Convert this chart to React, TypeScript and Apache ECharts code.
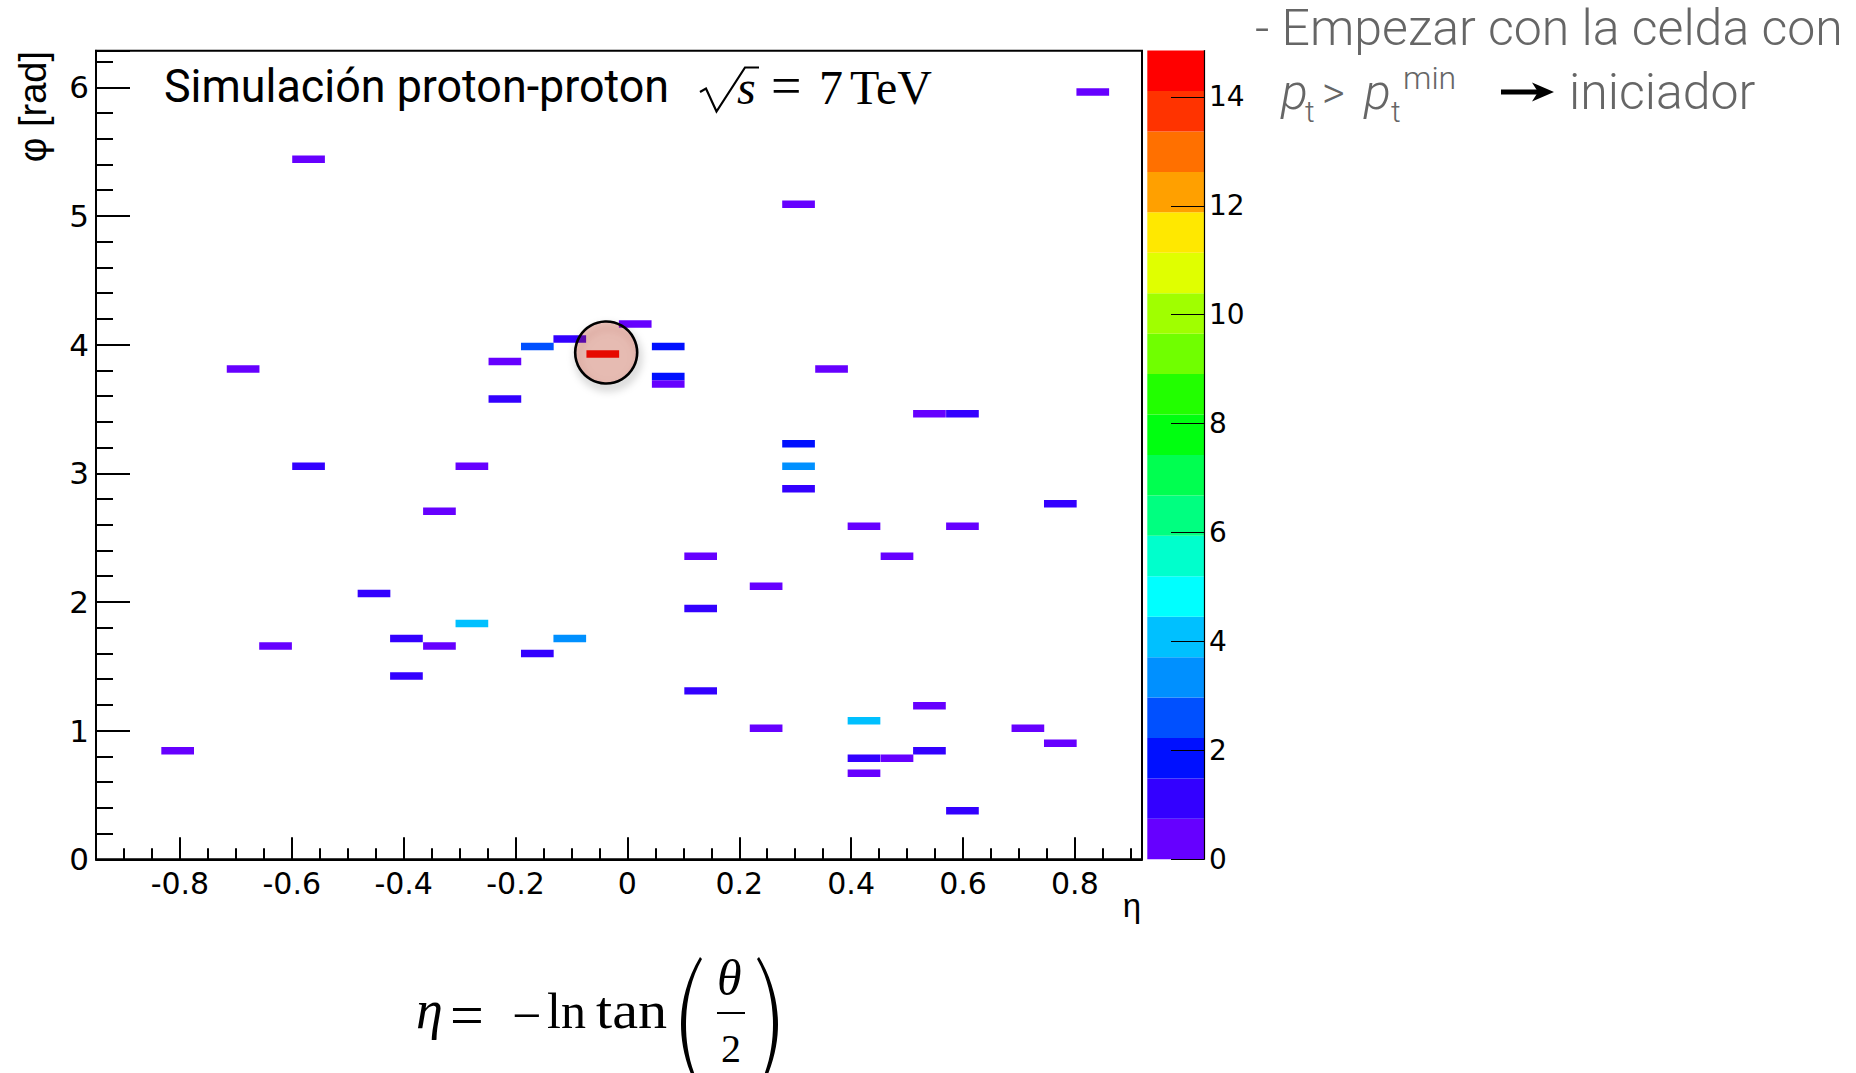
import { useEffect, useRef } from "react";
import * as echarts from "echarts";

// ---------------- data ----------------
const ETA_MIN = -0.95;
const ETA_MAX = 0.92;
const N_ETA_BINS = 32;
const PHI_MIN = 0;
const PHI_MAX = 2 * Math.PI;
const N_PHI_BINS = 108;
const Z_MAX = 14.85;
const N_LEVELS = 20;

// cell centres (eta, phi) and cell content (pt)
const cellEta = [
  -0.57, -0.687, -0.219, -0.219, -0.161, -0.103, -0.044, 0.832, 0.306, 0.014,
  0.073, 0.073, 0.073, 0.365, 0.54, 0.599, 0.306, -0.57, -0.278, -0.336,
  -0.453, -0.278, -0.395, -0.336, -0.103, -0.161, -0.629, -0.395, -0.804, 0.306,
  0.306, 0.774, 0.423, 0.599, 0.131, 0.482, 0.248, 0.131, 0.131, 0.54,
  0.423, 0.248, 0.716, 0.774, 0.54, 0.423, 0.482, 0.423, 0.599,
];
const cellPhi = [
  5.44, 3.811, 3.869, 3.578, 3.985, 4.043, 3.927, 5.963, 5.091, 4.16,
  3.985, 3.752, 3.694, 3.811, 3.462, 3.462, 3.229, 3.054, 3.054, 2.705,
  2.065, 1.833, 1.716, 1.658, 1.716, 1.6, 1.658, 1.425, 0.844, 3.054,
  2.88, 2.763, 2.589, 2.589, 2.356, 2.356, 2.123, 1.949, 1.309, 1.193,
  1.076, 1.018, 1.018, 0.902, 0.844, 0.785, 0.785, 0.669, 0.378,
];
const cellPt = [
  0.52, 0.48, 0.61, 1.12, 2.61, 1.05, 14.85, 0.44, 0.57, 0.66,
  1.86, 1.71, 0.59, 0.5, 0.63, 0.97, 1.94, 1.21, 0.46, 0.55,
  1.33, 4.12, 1.18, 0.69, 3.36, 1.27, 0.41, 1.09, 0.53, 3.18,
  1.24, 1.02, 0.47, 0.58, 0.64, 0.43, 0.56, 1.15, 1.31, 0.49,
  3.97, 0.62, 0.45, 0.68, 1.07, 0.89, 0.51, 0.6, 1.19,
];

const xMajorLabels = [-0.8, -0.6, -0.4, -0.2, 0, 0.2, 0.4, 0.6, 0.8];
const zTickValues = [0, 2, 4, 6, 8, 10, 12, 14];
const palette = [
  "#6600ff", "#3300ff", "#0010ff", "#0050ff", "#0090ff",
  "#00c0ff", "#00ffff", "#00ffcc", "#00ff80", "#00ff50",
  "#00ff10", "#22ff00", "#70ff00", "#a0ff00", "#e0ff00",
  "#ffe800", "#ffa000", "#ff7000", "#ff3300", "#ff0000",
];

// ---------------- layout ----------------
const GRID = { left: 96, top: 50.85, width: 1046, height: 808.45 };
const CBAR = { left: 1147.3, top: 50.6, width: 56.7, height: 808.7 };
const CENTRAL = 0.34;

const D_ETA = (ETA_MAX - ETA_MIN) / N_ETA_BINS;
const D_PHI = (PHI_MAX - PHI_MIN) / N_PHI_BINS;

function levelColor(v: number) {
  const lv = Math.min(N_LEVELS - 1, Math.max(0, Math.floor(v / (Z_MAX / N_LEVELS))));
  return palette[lv];
}

function txt(text: string, left: number, baseline: number, size: number, o: any = {}) {
  const style: any = {
    text,
    x: 0,
    y: 0,
    fill: o.color ?? "#000",
    fontSize: size,
    fontFamily: o.family ?? "Roboto",
    fontStyle: o.italic ? "italic" : "normal",
    fontWeight: o.weight ?? "normal",
    align: o.align ?? "left",
    verticalAlign: "middle",
  };
  if (o.lineHeight) style.lineHeight = o.lineHeight;
  return {
    type: "text",
    x: left,
    y: baseline - CENTRAL * size,
    scaleX: o.scaleX ?? 1,
    z: 50,
    style,
  };
}

const LPAREN =
  "M 20 0 C 5 25 1 50 1 67.5 C 1 85 5 110 20 135 L 22 133 C 10 112 6 88 6 67.5 C 6 47 10 23 22 2 Z";
const RPAREN =
  "M 2 0 C 17 25 21 50 21 67.5 C 21 85 17 110 2 135 L 0 133 C 12 112 16 88 16 67.5 C 16 47 12 23 0 2 Z";
let registered = false;
function registerShapes() {
  if (registered) return;
  registered = true;
  echarts.graphic.registerShape("lparen", echarts.graphic.extendPath(LPAREN, {}) as any);
  echarts.graphic.registerShape("rparen", echarts.graphic.extendPath(RPAREN, {}) as any);
}

const LABEL_FONT = "DejaVu Sans";
const TITLE_FONT = "Liberation Sans";
const SERIF = "Liberation Serif";

export default function App() {
  const ref = useRef<HTMLDivElement>(null);

  useEffect(() => {
    if (!ref.current) return;
    registerShapes();
    const chart = echarts.init(ref.current, undefined, { renderer: "svg" });

    const cells = cellEta.map((e, i) => [e, cellPhi[i], cellPt[i]]);
    const levels = palette.map((_, i) => [0.5, i]);
    const intLabel = (v: number) => (Math.abs(v - Math.round(v)) < 1e-6 ? String(Math.round(v)) : "");

    const option: any = {
      animation: false,
      backgroundColor: "#fff",
      grid: [
        { ...GRID, show: true, borderColor: "#000", borderWidth: 2, backgroundColor: "transparent", containLabel: false },
        { ...CBAR, show: false, containLabel: false },
      ],
      xAxis: [
        {
          type: "value",
          gridIndex: 0,
          position: "bottom",
          min: ETA_MIN,
          max: ETA_MAX,
          splitNumber: 10,
          axisLine: { show: true, onZero: false, lineStyle: { color: "#000", width: 2 } },
          axisTick: { show: true, inside: true, length: 22, lineStyle: { color: "#000", width: 2 } },
          axisLabel: {
            show: true,
            color: "#000",
            fontSize: 30,
            fontFamily: LABEL_FONT,
            margin: 9,
            formatter: (v: number) => {
              const hit = xMajorLabels.find((m) => Math.abs(m - v) < 1e-6);
              return hit === undefined ? "" : String(hit);
            },
          },
          splitLine: { show: false },
        },
        {
          type: "value",
          gridIndex: 0,
          position: "bottom",
          offset: 0,
          min: ETA_MIN,
          max: ETA_MAX,
          interval: 0.05,
          axisLine: { show: false, onZero: false },
          axisTick: { show: true, inside: true, length: 11, lineStyle: { color: "#000", width: 2 } },
          axisLabel: { show: false },
          splitLine: { show: false },
        },
        { type: "value", gridIndex: 1, min: 0, max: 1, show: false },
      ],
      yAxis: [
        {
          type: "value",
          gridIndex: 0,
          position: "left",
          min: PHI_MIN,
          max: PHI_MAX,
          interval: 1,
          axisLine: { show: true, onZero: false, lineStyle: { color: "#000", width: 2 } },
          axisTick: { show: true, inside: true, length: 34, lineStyle: { color: "#000", width: 2 } },
          axisLabel: {
            show: true,
            color: "#000",
            fontSize: 31,
            fontFamily: LABEL_FONT,
            margin: 7,
            formatter: intLabel,
          },
          splitLine: { show: false },
        },
        {
          type: "value",
          gridIndex: 0,
          position: "left",
          offset: 0,
          min: PHI_MIN,
          max: PHI_MAX,
          interval: 0.2,
          axisLine: { show: false, onZero: false },
          axisTick: { show: true, inside: true, length: 17, lineStyle: { color: "#000", width: 2 } },
          axisLabel: { show: false },
          splitLine: { show: false },
        },
        {
          type: "value",
          gridIndex: 1,
          position: "right",
          offset: 0,
          z: 10,
          min: 0,
          max: Z_MAX,
          interval: 2,
          axisLine: { show: true, onZero: false, lineStyle: { color: "#000", width: 1.2 } },
          axisTick: {
            show: true,
            inside: true,
            length: 33,
            customValues: zTickValues,
            lineStyle: { color: "#000", width: 1.2 },
          },
          axisLabel: {
            show: true,
            color: "#000",
            fontSize: 28,
            fontFamily: LABEL_FONT,
            margin: 5,
            customValues: zTickValues,
            formatter: intLabel,
          },
          splitLine: { show: false },
        },
      ],
      series: [
        {
          type: "custom",
          xAxisIndex: 0,
          yAxisIndex: 0,
          data: cells,
          encode: { x: 0, y: 1 },
          z: 2,
          renderItem: (_p: any, api: any) => {
            const e = api.value(0);
            const f = api.value(1);
            const z = api.value(2);
            const a = api.coord([e - D_ETA / 2, f + D_PHI / 2]);
            const b = api.coord([e + D_ETA / 2, f - D_PHI / 2]);
            return {
              type: "rect",
              shape: { x: a[0], y: a[1], width: b[0] - a[0], height: b[1] - a[1] },
              style: { fill: levelColor(z) },
            };
          },
        },
        {
          type: "custom",
          xAxisIndex: 2,
          yAxisIndex: 2,
          data: levels,
          encode: { x: 0, y: 1 },
          z: 1,
          renderItem: (_p: any, api: any) => {
            const i = api.value(1);
            const lo = (i * Z_MAX) / N_LEVELS;
            const hi = ((i + 1) * Z_MAX) / N_LEVELS;
            const a = api.coord([0, hi]);
            const b = api.coord([1, lo]);
            return {
              type: "rect",
              shape: { x: a[0], y: a[1], width: b[0] - a[0], height: b[1] - a[1] },
              style: { fill: palette[i] },
            };
          },
        },
      ],
    };

    chart.setOption(option);

    // highlight circle around the most energetic cell
    let maxI = 0;
    cellPt.forEach((v, i) => {
      if (v > cellPt[maxI]) maxI = i;
    });
    const c = chart.convertToPixel({ gridIndex: 0 } as any, [cellEta[maxI], cellPhi[maxI]]) as number[];

    const gray = "#666";
    const graphics: any[] = [
      // title
      txt("Simulación proton-proton", 164, 101.7, 46, { scaleX: 0.975 }),
      {
        type: "polyline",
        z: 50,
        shape: { points: [[700, 92], [706, 88.5], [716.5, 111.5], [745, 67.5], [759, 67.5]] },
        style: { stroke: "#000", lineWidth: 2.2, fill: null },
      },
      txt("s", 737, 104, 48, { family: SERIF, italic: true }),
      txt("=", 771, 104, 54, { family: SERIF }),
      txt("7", 819, 104, 48, { family: SERIF }),
      txt("TeV", 850, 104, 48, { family: SERIF }),
      // axis titles
      {
        type: "text",
        x: 33,
        y: 51,
        rotation: Math.PI / 2,
        z: 50,
        style: { text: "φ [rad]", x: 0, y: 0, fontSize: 38, fontFamily: TITLE_FONT, fill: "#000", align: "right", verticalAlign: "middle" },
      },
      txt("η", 1141, 917, 33, { family: TITLE_FONT, align: "right" }),
      // circle
      {
        type: "circle",
        z: 100,
        shape: { cx: c[0] + 3.4, cy: c[1] - 1.5, r: 31 },
        style: {
          fill: "rgba(191,35,11,0.24)",
          stroke: "#000",
          lineWidth: 2.6,
          shadowBlur: 8,
          shadowOffsetX: 2,
          shadowOffsetY: 5,
          shadowColor: "rgba(0,0,0,0.35)",
        },
      },
      // right-hand text
      txt("- Empezar con la celda con", 1255, 45, 50, { color: gray, weight: 300 }),
      txt("p", 1281, 109, 50, { color: gray, weight: 300, italic: true }),
      txt("t", 1305, 122, 30, { color: gray, weight: 300 }),
      txt(">", 1322, 108, 44, { color: gray, weight: 300 }),
      txt("p", 1364, 109, 50, { color: gray, weight: 300, italic: true }),
      txt("t", 1391, 122, 30, { color: gray, weight: 300 }),
      txt("min", 1403, 89, 32, { color: gray, weight: 300 }),
      {
        type: "line",
        z: 50,
        shape: { x1: 1501, y1: 92, x2: 1540, y2: 92 },
        style: { stroke: "#000", lineWidth: 5 },
      },
      {
        type: "polygon",
        z: 50,
        shape: { points: [[1532, 82.5], [1554, 92], [1532, 101.5], [1538, 92]] },
        style: { fill: "#000" },
      },
      txt("iniciador", 1569, 109, 50, { color: gray, weight: 300 }),
      // bottom formula
      txt("η", 416, 1028, 54, { family: SERIF, italic: true }),
      txt("=", 450, 1035, 60, { family: SERIF }),
      txt("−", 512, 1033, 52, { family: SERIF }),
      txt("ln", 547, 1028, 50, { family: SERIF }),
      txt("tan", 596, 1028, 52, { family: SERIF, scaleX: 1.12 }),
      { type: "lparen", x: 680, y: 957, z: 50, style: { fill: "#000" } },
      txt("θ", 717, 995, 50, { family: SERIF, italic: true }),
      {
        type: "line",
        z: 50,
        shape: { x1: 717, y1: 1013, x2: 745, y2: 1013 },
        style: { stroke: "#000", lineWidth: 2 },
      },
      txt("2", 721, 1062, 40, { family: SERIF }),
      { type: "rparen", x: 757, y: 957, z: 50, style: { fill: "#000" } },
    ];

    chart.setOption({ graphic: graphics });

    return () => chart.dispose();
  }, []);

  return (
    <div
      ref={ref}
      style={{ position: "absolute", left: 0, top: 0, width: 1856, height: 1073, background: "#fff" }}
    />
  );
}
